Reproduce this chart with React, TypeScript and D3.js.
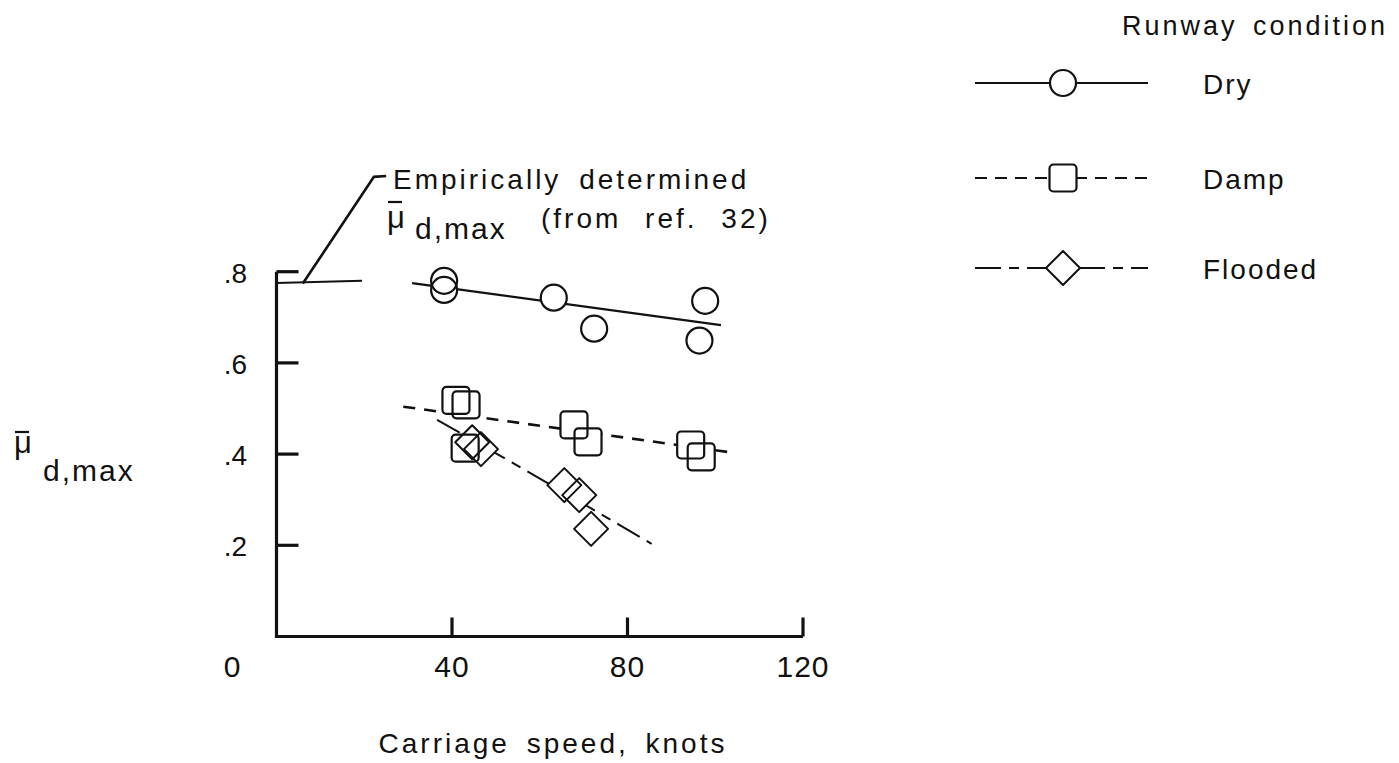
import React from "react";
import * as d3 from "d3";

// ---- data ----
const xTicks = [40, 80, 120];
const yTicks = [0.2, 0.4, 0.6, 0.8];
const yTickLabels = [".2", ".4", ".6", ".8"];

const dryX = [38.2, 38.2, 63.2, 72.4, 97.7, 96.4];
const dryY = [0.780, 0.760, 0.743, 0.675, 0.736, 0.649];
const dampX = [40.9, 43.2, 43.0, 67.8, 71.0, 94.4, 96.8];
const dampY = [0.518, 0.508, 0.413, 0.464, 0.427, 0.420, 0.394];
const floodX = [44.6, 46.6, 65.6, 69.0, 71.7];
const floodY = [0.426, 0.411, 0.332, 0.310, 0.236];

const dryFitX = [30.9, 101.3];
const dryFitY = [0.775, 0.683];
const dampFitX = [28.9, 104.1];
const dampFitY = [0.504, 0.403];
const floodFitX = [36.6, 61.9, 85.5];
const floodFitY = [0.475, 0.336, 0.203];

const empX = [0, 19.5];
const empY = [0.775, 0.780];
const leaderX = [6.0, 22.2, 25.0];
const leaderY = [0.774, 1.008, 1.010];

const legendItems = ["Dry", "Damp", "Flooded"];

const FONT = "'Liberation Sans', Arial, sans-serif";

const W = 1399;
const H = 763;

export default function App() {
  const x = d3.scaleLinear().domain([0, 120]).range([276.5, 803]);
  const y = d3.scaleLinear().domain([0, 0.8]).range([636.5, 271.7]);

  const line = d3
    .line<[number, number]>()
    .x((d) => x(d[0]))
    .y((d) => y(d[1]));
  const curve = d3
    .line<[number, number]>()
    .x((d) => x(d[0]))
    .y((d) => y(d[1]))
    .curve(d3.curveMonotoneX);

  const zip = (a: number[], b: number[]) => a.map((v, i) => [v, b[i]] as [number, number]);

  const R = 13;
  const S = 27;
  const D = 17;
  const diamond = `M0,${-D}L${D},0L0,${D}L${-D},0Z`;

  const stroke = "#111";

  const dryPts = zip(dryX, dryY);
  const dampPts = zip(dampX, dampY);
  const floodPts = zip(floodX, floodY);

  const circle = (cx: number, cy: number, k: string, fill: string) => (
    <circle key={k} cx={cx} cy={cy} r={R} fill={fill} stroke={fill === "none" ? stroke : "none"} strokeWidth={2.2} />
  );
  const square = (cx: number, cy: number, k: string, fill: string) => (
    <rect key={k} x={cx - S / 2} y={cy - S / 2} width={S} height={S} rx={4} fill={fill} stroke={fill === "none" ? stroke : "none"} strokeWidth={2.2} />
  );
  const dia = (cx: number, cy: number, k: string, fill: string) => (
    <path key={k} d={diamond} transform={`translate(${cx},${cy})`} fill={fill} stroke={fill === "none" ? stroke : "none"} strokeWidth={2} strokeLinejoin="round" />
  );

  const legendY = [83, 178, 268];
  const legX0 = 975;
  const legX1 = 1148;
  const legSym = 1063;
  const legDash = ["none", "12,8", "26,8,10,8"];

  return (
    <svg
      width={W}
      height={H}
      style={{ position: "absolute", left: 0, top: 0, background: "#fff" }}
      fontFamily={FONT}
    >
      <rect x={0} y={0} width={W} height={H} fill="#fff" />

      {/* axes */}
      <line x1={x(0)} x2={x(0)} y1={y(0.8)} y2={y(0) + 1.5} stroke={stroke} strokeWidth={3.2} />
      <line x1={x(0) - 1.5} x2={x(120)} y1={y(0)} y2={y(0)} stroke={stroke} strokeWidth={3.2} />
      {yTicks.map((t, i) => (
        <g key={"yt" + i}>
          <line x1={x(0)} x2={x(0) + 22} y1={y(t)} y2={y(t)} stroke={stroke} strokeWidth={3.2} />
          <text x={247} y={y(t) + 11} fontSize={28} textAnchor="end" fill={stroke}>
            {yTickLabels[i]}
          </text>
        </g>
      ))}
      {xTicks.map((t) => (
        <g key={"xt" + t}>
          <line x1={x(t)} x2={x(t)} y1={y(0)} y2={y(0) - 19} stroke={stroke} strokeWidth={3.2} />
          <text x={x(t)} y={677} fontSize={30} textAnchor="middle" fill={stroke} letterSpacing={1}>
            {t}
          </text>
        </g>
      ))}
      <text x={x(0) - 44.5} y={677} fontSize={30} textAnchor="middle" fill={stroke}>
        0
      </text>

      {/* axis titles */}
      <text x={553} y={753} fontSize={28} textAnchor="middle" fill={stroke} letterSpacing={3} wordSpacing={6}>
        Carriage speed, knots
      </text>
      <g>
        <line x1={15} x2={29} y1={432} y2={432} stroke={stroke} strokeWidth={2.2} />
        <text x={14} y={453} fontSize={31} fill={stroke}>μ</text>
        <text x={43} y={481} fontSize={30} fill={stroke} letterSpacing={2}>d,max</text>
      </g>

      {/* empirical value annotation */}
      <path d={line(zip(empX, empY)) || ""} fill="none" stroke={stroke} strokeWidth={2} />
      <path d={line(zip(leaderX, leaderY)) || ""} fill="none" stroke={stroke} strokeWidth={2.6} />
      <text x={393} y={189} fontSize={28} fill={stroke} letterSpacing={3} wordSpacing={7}>
        Empirically determined
      </text>
      <line x1={388} x2={402} y1={202} y2={202} stroke={stroke} strokeWidth={2.2} />
      <text x={387} y={228} fontSize={31} fill={stroke}>μ</text>
      <text x={415} y={239} fontSize={30} fill={stroke} letterSpacing={2}>d,max</text>
      <text x={541} y={228} fontSize={28} fill={stroke} letterSpacing={3} wordSpacing={13}>
        (from ref. 32)
      </text>

      {/* fairing lines */}
      <path d={line(zip(dryFitX, dryFitY)) || ""} fill="none" stroke={stroke} strokeWidth={2.2} />
      <path d={line(zip(dampFitX, dampFitY)) || ""} fill="none" stroke={stroke} strokeWidth={2.6} strokeDasharray="12,9" />
      <path d={curve(zip(floodFitX, floodFitY)) || ""} fill="none" stroke={stroke} strokeWidth={2} strokeDasharray="26,8,10,8" />

      {/* symbol backgrounds hide the lines inside */}
      {dryPts.map((p, i) => circle(x(p[0]), y(p[1]), "dcb" + i, "#fff"))}
      {dampPts.map((p, i) => square(x(p[0]), y(p[1]), "dsb" + i, "#fff"))}
      {floodPts.map((p, i) => dia(x(p[0]), y(p[1]), "fdb" + i, "#fff"))}
      {/* symbol outlines */}
      {dryPts.map((p, i) => circle(x(p[0]), y(p[1]), "dc" + i, "none"))}
      {dampPts.map((p, i) => square(x(p[0]), y(p[1]), "ds" + i, "none"))}
      {floodPts.map((p, i) => dia(x(p[0]), y(p[1]), "fd" + i, "none"))}

      {/* legend */}
      <text x={1122} y={35} fontSize={27} fill={stroke} letterSpacing={3} wordSpacing={5}>
        Runway condition
      </text>
      {legendItems.map((name, i) => {
        const ly = legendY[i];
        return (
          <g key={"leg" + i}>
            <line
              x1={legX0}
              x2={legX1}
              y1={ly}
              y2={ly}
              stroke={stroke}
              strokeWidth={2.2}
              strokeDasharray={legDash[i] === "none" ? undefined : legDash[i]}
            />
            {i === 0 && circle(legSym, ly, "lcb", "#fff")}
            {i === 0 && circle(legSym, ly, "lc", "none")}
            {i === 1 && square(legSym, ly, "lsb", "#fff")}
            {i === 1 && square(legSym, ly, "ls", "none")}
            {i === 2 && dia(legSym, ly, "ldb", "#fff")}
            {i === 2 && dia(legSym, ly, "ld", "none")}
            <text x={1203} y={ly + 11} fontSize={28} fill={stroke} letterSpacing={2}>
              {name}
            </text>
          </g>
        );
      })}
    </svg>
  );
}
